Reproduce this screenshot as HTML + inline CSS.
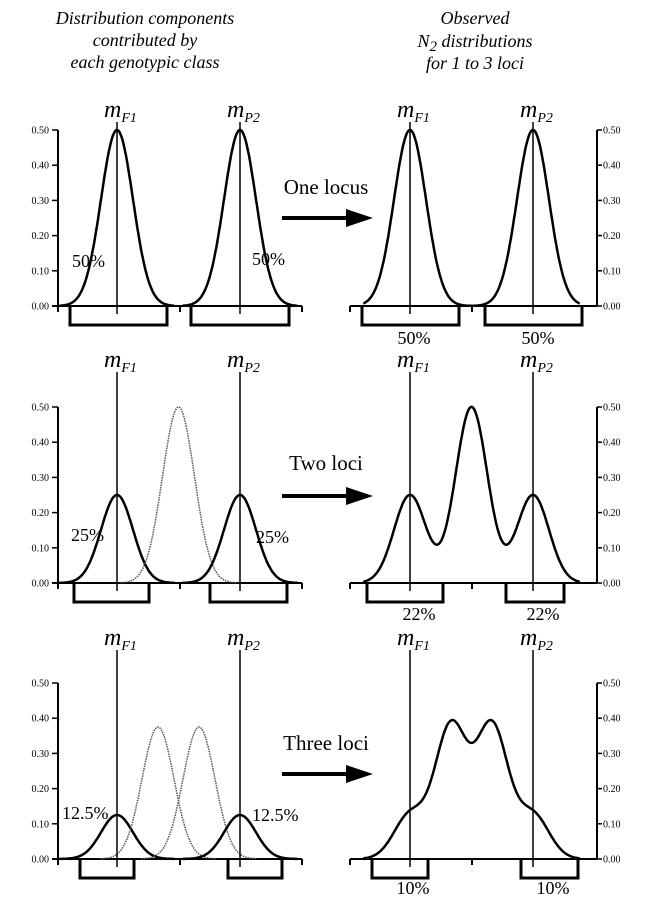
<!DOCTYPE html>
<html><head><meta charset="utf-8"><style>
body{margin:0;background:#fff;}
svg{display:block;font-family:"Liberation Serif",serif;}
</style></head><body>
<svg id="fig" width="650" height="903" viewBox="0 0 650 903">
<g font-style="italic" font-size="18" text-anchor="middle">
<text x="145" y="24">Distribution components</text>
<text x="145" y="46">contributed by</text>
<text x="145" y="68">each genotypic class</text>
</g>
<g font-style="italic" font-size="18" text-anchor="middle">
<text x="475" y="24">Observed</text>
<text x="475" y="47">N<tspan font-size="15" dy="4">2</tspan><tspan dy="-4"> distributions</tspan></text>
<text x="475" y="69">for 1 to 3 loci</text>
</g>
</svg>
<script>
// Data
const rowNames = ['One locus','Two loci','Three loci'];
const compMeans = [[0,1],[0,0.5,1],[0,1/3,2/3,1]];
const compHeights = [[0.5,0.5],[0.25,0.5,0.25],[0.125,0.375,0.375,0.125]];
const leftPct = ['50%','25%','12.5%'];
const rightPct = ['50%','22%','10%'];
const yTicks = [0,0.1,0.2,0.3,0.4,0.5];
const yTickLabels = ['0.00','0.10','0.20','0.30','0.40','0.50'];
const sigma = 0.13;

const svg = document.getElementById('fig');
const NS = 'http://www.w3.org/2000/svg';
function mk(tag, attrs, parent){const e=document.createElementNS(NS,tag);for(const k in attrs)e.setAttribute(k,attrs[k]);(parent||svg).appendChild(e);return e;}

const rowZero = [306,583,859];
const lineTop = [122,372,650];
const pxPerUnit = 352;
const leftBrackets = [[70,167,191,289],[74,149,210,287],[80,134,228,282]];
const rightBrackets = [[362,459,485,582],[367,443,506,564],[372,428,521,578]];
const leftPctPos = [[72,267,252,265],[71,541,256,543],[62,819,252,821]];
const rightPctPos = [[414,344,538,344],[419,620,543,620],[413,894,553,894]];

rowNames.forEach((name, r) => {
  const z = rowZero[r];
  const Y = v => z - v*pxPerUnit;
  ['left','right'].forEach(side => {
    const x0 = side==='left' ? 117 : 410;
    const X = v => x0 + v*123;
    const g = mk('g',{});
    
    
    const ax = side==='left' ? 58 : 597;
    const xa = side==='left' ? [52,302] : [350,597];
    mk('line',{x1:ax,y1:Y(0.5),x2:ax,y2:z,stroke:'#000','stroke-width':2},g);
    mk('line',{x1:xa[0],y1:z,x2:xa[1],y2:z,stroke:'#000','stroke-width':2},g);
    const xt = side==='left' ? [58,180,302] : [350,472];
    xt.forEach(t=>{mk('line',{x1:t,y1:z,x2:t,y2:z+6,stroke:'#000','stroke-width':2},g);});
    yTicks.forEach((t,i)=>{
      if(side==='left'){
        mk('line',{x1:ax-6,y1:Y(t),x2:ax,y2:Y(t),stroke:'#000','stroke-width':1.5},g);
        const tx=mk('text',{x:ax-9,y:Y(t)+3.5,'font-size':10,'text-anchor':'end'},g);tx.textContent=yTickLabels[i];
        
      } else {
        mk('line',{x1:ax,y1:Y(t),x2:ax+5,y2:Y(t),stroke:'#000','stroke-width':1.5},g);
        const tx=mk('text',{x:ax+6,y:Y(t)+3.5,'font-size':10},g);tx.textContent=yTickLabels[i];
        
      }
    });
    const means = compMeans[r], hs = compHeights[r];
    const gauss = (v,m,h)=>h*Math.exp(-0.5*((v-m)/sigma)**2);
    if(side==='left'){
      means.forEach((m,i)=>{
        let d='';
        for(let v=m-3.6*sigma; v<=m+3.6*sigma+1e-9; v+=0.005){d+=(d?'L':'M')+X(v).toFixed(1)+','+Y(gauss(v,m,hs[i])).toFixed(1);}
        const outer = (i===0||i===means.length-1);
        const p=mk('path',{d:d,fill:'none',stroke:outer?'#000':'#555','stroke-width':outer?2.5:1.5,'stroke-dasharray':outer?'none':'1.5,1'},g);
        
        
      });
    } else {
      let d='';
      for(let v=-0.38; v<=1.38+1e-9; v+=0.005){let s=0;means.forEach((m,i)=>s+=gauss(v,m,hs[i]));d+=(d?'L':'M')+X(v).toFixed(1)+','+Y(s).toFixed(1);}
      const p=mk('path',{d:d,fill:'none',stroke:'#000','stroke-width':2.5},g);
      
      
    }
    [['F1',0],['P2',1]].forEach(([lab,v])=>{
      mk('line',{x1:X(v),y1:lineTop[r],x2:X(v),y2:z+8,stroke:'#000','stroke-width':1.5},g);
      const t=mk('text',{x:X(v)-13,y:lineTop[r]-5,'font-size':24,'font-style':'italic'},g);
      
      t.innerHTML='m<tspan font-size="14" dy="5">'+lab+'</tspan>';
    });
    const b = side==='left'?leftBrackets[r]:rightBrackets[r];
    [[b[0],b[1]],[b[2],b[3]]].forEach(([a,c])=>{
      const p=mk('path',{d:`M${a},${z}V${z+19}H${c}V${z}`,fill:'none',stroke:'#000','stroke-width':3},g);
      
    });
    const pp = side==='left'?leftPctPos[r]:rightPctPos[r];
    const lab = side==='left'?leftPct[r]:rightPct[r];
    [[pp[0],pp[1]],[pp[2],pp[3]]].forEach(([x,y])=>{
      const t=mk('text',{x:x,y:y,'font-size':18,'text-anchor':side==='left'?'start':'middle'},g);
      t.textContent=lab;
    });
  });
  const ay = [218,496,774][r], ty=[194,470,750][r];
  const ga=mk('g',{});
  const t=mk('text',{x:326,y:ty,'font-size':21,'text-anchor':'middle'},ga);t.textContent=name;
  mk('line',{x1:282,y1:ay,x2:350,y2:ay,stroke:'#000','stroke-width':4},ga);
  mk('path',{d:`M346,${ay-9}L373,${ay}L346,${ay+9}Z`,fill:'#000'},ga);
});
</script>
</body></html>
